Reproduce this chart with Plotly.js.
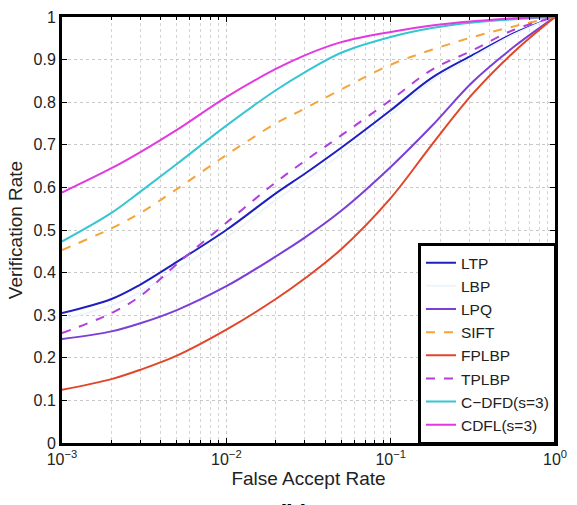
<!DOCTYPE html>
<html>
<head>
<meta charset="utf-8">
<script src="https://cdn.plot.ly/plotly-3.0.1.min.js"></script>
<style>html,body{margin:0;padding:0;background:#fff;}#chart{width:577px;height:505px;}</style>
</head>
<body>
<div id="chart"></div>
<script>
// False accept rate sample points (log scale)
const far = [0.001, 0.002, 0.003, 0.005, 0.01, 0.02, 0.03, 0.05, 0.1, 0.1778, 0.3162, 0.5623, 1];

const LTP   = [0.305, 0.338, 0.372, 0.425, 0.500, 0.586, 0.632, 0.693, 0.781, 0.857, 0.911, 0.962, 1.0];
const LBP   = [0.290, 0.323, 0.355, 0.408, 0.482, 0.570, 0.617, 0.679, 0.770, 0.850, 0.906, 0.959, 1.0];
const LPQ   = [0.244, 0.262, 0.281, 0.312, 0.368, 0.438, 0.482, 0.545, 0.648, 0.744, 0.848, 0.930, 1.0];
const SIFT  = [0.453, 0.504, 0.540, 0.596, 0.676, 0.750, 0.785, 0.830, 0.888, 0.923, 0.953, 0.978, 1.0];
const FPLBP = [0.125, 0.150, 0.172, 0.205, 0.266, 0.338, 0.386, 0.455, 0.575, 0.700, 0.820, 0.918, 1.0];
const TPLBP = [0.258, 0.305, 0.345, 0.420, 0.517, 0.612, 0.662, 0.722, 0.805, 0.876, 0.922, 0.970, 1.0];
const CDFD  = [0.473, 0.540, 0.590, 0.655, 0.745, 0.828, 0.870, 0.916, 0.953, 0.974, 0.987, 0.995, 1.0];
const CDFL  = [0.588, 0.645, 0.683, 0.735, 0.812, 0.878, 0.910, 0.941, 0.965, 0.980, 0.990, 0.997, 1.0];

const names = ['LTP','LBP','LPQ','SIFT','FPLBP','TPLBP','C\u2212DFD(s=3)','CDFL(s=3)'];
const series = [LTP, LBP, LPQ, SIFT, FPLBP, TPLBP, CDFD, CDFL];
const colors = ['#1f1fc0','#eef4fb','#7b3fd6','#f5a43a','#e2462a','#b040dc','#35c6d2','#e23ae0'];
const dashes = ['solid','solid','solid','dash','solid','dash','solid','solid'];

const traces = series.map((s, i) => ({
  x: far, y: s, name: names[i], type: 'scatter', mode: 'lines',
  line: {color: colors[i], width: 2, dash: dashes[i], shape: 'spline', smoothing: 1}
}));

const xTickVals = [0.001, 0.01, 0.1, 1];
const xTickText = ['10<sup>\u22123</sup>','10<sup>\u22122</sup>','10<sup>\u22121</sup>','10<sup>0</sup>'];
const xMinorVals = [];
[0.001, 0.01, 0.1].forEach(d => { for (let k = 2; k <= 9; k++) xMinorVals.push(d * k); });
const yTickVals = [0,0.1,0.2,0.3,0.4,0.5,0.6,0.7,0.8,0.9,1];
const yTickText = ['0','0.1','0.2','0.3','0.4','0.5','0.6','0.7','0.8','0.9','1'];

const layout = {
  width: 577, height: 505,
  margin: {l: 62, r: 22, t: 17, b: 62},
  paper_bgcolor: '#fff', plot_bgcolor: '#fff',
  font: {family: 'Liberation Sans, Arial, sans-serif', color: '#222', size: 15},
  showlegend: true,
  xaxis: {
    type: 'log', range: [-3, 0],
    tickvals: xTickVals, ticktext: xTickText,
    ticks: 'inside', ticklen: 5, tickcolor: '#000',
    showline: true, linecolor: '#000', linewidth: 3, mirror: 'ticks',
    showgrid: true, gridcolor: '#c8c8c8', griddash: 'dot', gridwidth: 1,
    minor: {tickvals: xMinorVals, showgrid: true, gridcolor: '#d4d4d4', griddash: 'dot', ticks: 'inside', ticklen: 3, tickcolor: '#000'},
    zeroline: false,
    tickfont: {size: 16, color: '#222'},
    title: {text: 'False Accept Rate', font: {size: 19, color: '#222'}, standoff: 2}
  },
  yaxis: {
    range: [0, 1],
    tickvals: yTickVals, ticktext: yTickText,
    ticks: 'inside', ticklen: 5, tickcolor: '#000',
    showline: true, linecolor: '#000', linewidth: 3, mirror: 'ticks',
    showgrid: true, gridcolor: '#c8c8c8', griddash: 'dot', gridwidth: 1,
    zeroline: false,
    tickfont: {size: 16, color: '#222'},
    title: {text: 'Verification Rate', font: {size: 19, color: '#222'}, standoff: 6}
  },
  legend: {
    x: 1.004, y: -0.005, xanchor: 'right', yanchor: 'bottom',
    bgcolor: '#fff', bordercolor: '#000', borderwidth: 3,
    font: {size: 15.5, color: '#222'},
    itemwidth: 30, tracegroupgap: 0,
    traceorder: 'normal'
  },
  annotations: [{
    text: '<b>(b)</b>', xref: 'paper', yref: 'paper',
    x: 0.47, y: -0.13, xanchor: 'center', yanchor: 'top',
    showarrow: false, font: {size: 24, color: '#000'}
  }]
};

Plotly.newPlot('chart', traces, layout, {displayModeBar: false, staticPlot: true});
</script>
</body>
</html>
